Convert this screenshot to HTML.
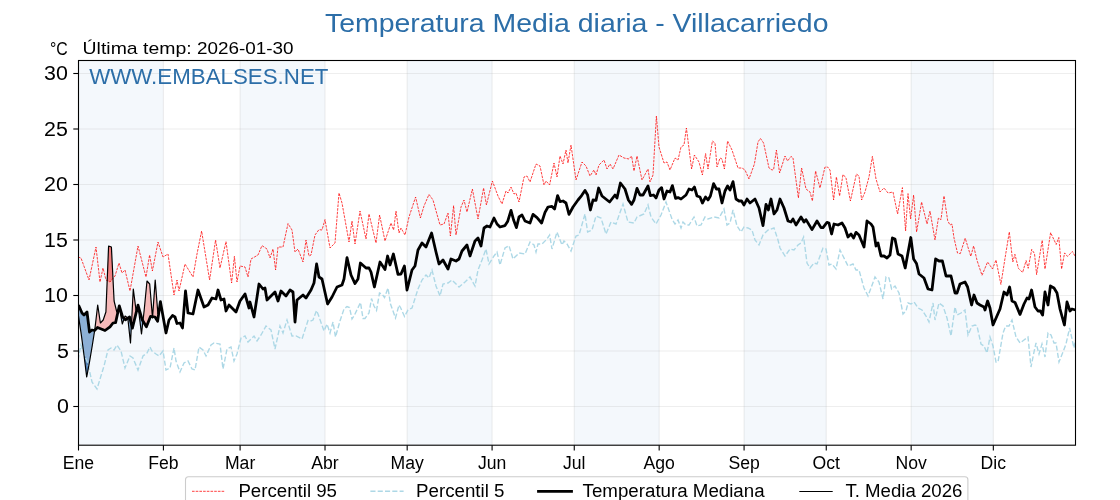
<!DOCTYPE html>
<html><head><meta charset="utf-8"><style>
html,body{margin:0;padding:0;background:#fff;width:1120px;height:500px;overflow:hidden;font-family:"Liberation Sans",sans-serif}
</style></head><body>
<svg width="1120" height="500" viewBox="0 0 1120 500" style="display:block;will-change:transform">
<rect x="0" y="0" width="1120" height="500" fill="#ffffff"/>
<rect x="78.50" y="60.50" width="84.91" height="384.70" fill="#f4f8fc"/>
<rect x="240.10" y="60.50" width="84.91" height="384.70" fill="#f4f8fc"/>
<rect x="407.18" y="60.50" width="84.91" height="384.70" fill="#f4f8fc"/>
<rect x="574.26" y="60.50" width="84.91" height="384.70" fill="#f4f8fc"/>
<rect x="744.08" y="60.50" width="82.17" height="384.70" fill="#f4f8fc"/>
<rect x="911.16" y="60.50" width="82.17" height="384.70" fill="#f4f8fc"/>
<line x1="78.50" y1="60.5" x2="78.50" y2="445.2" stroke="#b0b0b0" stroke-opacity="0.22" stroke-width="1.1"/>
<line x1="163.41" y1="60.5" x2="163.41" y2="445.2" stroke="#b0b0b0" stroke-opacity="0.22" stroke-width="1.1"/>
<line x1="240.10" y1="60.5" x2="240.10" y2="445.2" stroke="#b0b0b0" stroke-opacity="0.22" stroke-width="1.1"/>
<line x1="325.01" y1="60.5" x2="325.01" y2="445.2" stroke="#b0b0b0" stroke-opacity="0.22" stroke-width="1.1"/>
<line x1="407.18" y1="60.5" x2="407.18" y2="445.2" stroke="#b0b0b0" stroke-opacity="0.22" stroke-width="1.1"/>
<line x1="492.09" y1="60.5" x2="492.09" y2="445.2" stroke="#b0b0b0" stroke-opacity="0.22" stroke-width="1.1"/>
<line x1="574.26" y1="60.5" x2="574.26" y2="445.2" stroke="#b0b0b0" stroke-opacity="0.22" stroke-width="1.1"/>
<line x1="659.17" y1="60.5" x2="659.17" y2="445.2" stroke="#b0b0b0" stroke-opacity="0.22" stroke-width="1.1"/>
<line x1="744.08" y1="60.5" x2="744.08" y2="445.2" stroke="#b0b0b0" stroke-opacity="0.22" stroke-width="1.1"/>
<line x1="826.25" y1="60.5" x2="826.25" y2="445.2" stroke="#b0b0b0" stroke-opacity="0.22" stroke-width="1.1"/>
<line x1="911.16" y1="60.5" x2="911.16" y2="445.2" stroke="#b0b0b0" stroke-opacity="0.22" stroke-width="1.1"/>
<line x1="993.33" y1="60.5" x2="993.33" y2="445.2" stroke="#b0b0b0" stroke-opacity="0.22" stroke-width="1.1"/>
<line x1="78.5" y1="406.50" x2="1075.5" y2="406.50" stroke="#b0b0b0" stroke-opacity="0.22" stroke-width="1.1"/>
<line x1="78.5" y1="351.00" x2="1075.5" y2="351.00" stroke="#b0b0b0" stroke-opacity="0.22" stroke-width="1.1"/>
<line x1="78.5" y1="295.50" x2="1075.5" y2="295.50" stroke="#b0b0b0" stroke-opacity="0.22" stroke-width="1.1"/>
<line x1="78.5" y1="240.00" x2="1075.5" y2="240.00" stroke="#b0b0b0" stroke-opacity="0.22" stroke-width="1.1"/>
<line x1="78.5" y1="184.50" x2="1075.5" y2="184.50" stroke="#b0b0b0" stroke-opacity="0.22" stroke-width="1.1"/>
<line x1="78.5" y1="129.00" x2="1075.5" y2="129.00" stroke="#b0b0b0" stroke-opacity="0.22" stroke-width="1.1"/>
<line x1="78.5" y1="73.50" x2="1075.5" y2="73.50" stroke="#b0b0b0" stroke-opacity="0.22" stroke-width="1.1"/>
<defs><clipPath id="ax"><rect x="78.5" y="60.5" width="997.0" height="384.7"/></clipPath></defs>
<g clip-path="url(#ax)">
<polygon points="94.8,329.8 94.9,328.9 95.1,327.8 95.2,326.6 95.3,325.4 95.5,324.3 95.6,323.1 95.7,321.9 95.9,320.8 96.0,319.6 96.1,318.5 96.3,317.3 96.4,316.1 96.5,315.0 96.7,313.8 96.8,312.7 96.9,311.5 97.1,310.3 97.2,309.2 97.3,308.0 97.5,306.8 97.6,305.7 97.7,305.4 97.9,306.2 98.0,307.1 98.1,308.0 98.3,308.8 98.4,309.7 98.5,310.6 98.7,311.5 98.8,312.3 98.9,313.2 99.1,314.1 99.2,314.9 99.3,315.8 99.5,316.7 99.6,317.6 99.7,318.4 99.8,319.3 100.0,320.2 100.1,321.0 100.2,321.9 100.4,322.8 100.5,322.9 100.6,322.7 100.8,322.6 100.9,322.5 101.0,322.3 101.2,322.2 101.3,322.0 101.4,321.9 101.6,321.7 101.7,321.6 101.8,321.4 102.0,321.3 102.1,321.1 102.2,321.0 102.4,320.9 102.5,320.7 102.6,320.6 102.8,320.4 102.9,320.3 103.0,320.1 103.2,320.0 103.3,319.6 103.4,319.2 103.6,318.8 103.7,318.4 103.8,318.0 104.0,317.6 104.1,317.2 104.2,316.9 104.4,316.5 104.5,316.1 104.6,315.7 104.8,315.3 104.9,314.9 105.0,314.5 105.2,314.2 105.3,313.8 105.4,313.4 105.6,313.0 105.7,312.6 105.8,312.2 105.9,310.6 106.1,307.4 106.2,304.2 106.3,301.0 106.5,297.8 106.6,294.6 106.7,291.4 106.9,288.2 107.0,285.0 107.1,281.8 107.3,278.6 107.4,275.4 107.5,272.2 107.7,269.0 107.8,265.8 107.9,262.6 108.1,259.4 108.2,256.2 108.3,253.1 108.5,249.9 108.6,246.7 108.7,246.0 108.9,246.1 109.0,246.1 109.1,246.2 109.3,246.2 109.4,246.3 109.5,246.3 109.7,246.4 109.8,246.4 109.9,246.5 110.1,246.5 110.2,246.6 110.3,246.6 110.5,246.7 110.6,246.7 110.7,246.8 110.9,246.8 111.0,246.9 111.1,246.9 111.3,247.0 111.4,247.4 111.5,250.0 111.7,252.6 111.8,255.2 111.9,257.8 112.0,260.4 112.2,263.0 112.3,265.7 112.4,268.3 112.6,270.9 112.7,273.5 112.8,276.1 113.0,278.7 113.1,281.3 113.2,284.0 113.4,286.6 113.5,289.2 113.6,291.8 113.8,294.4 113.9,297.0 114.0,299.6 114.2,301.3 114.3,301.8 114.4,302.3 114.6,302.9 114.7,303.4 114.8,303.9 115.0,304.5 115.1,305.0 115.2,305.5 115.4,306.1 115.5,306.6 115.6,307.1 115.8,307.6 115.9,308.2 116.0,308.7 116.2,309.2 116.3,309.8 116.4,310.3 116.6,310.8 116.7,311.4 116.8,311.9 117.0,311.9 117.1,311.7 117.2,311.6 117.4,311.4 117.5,311.3 117.6,311.2 117.8,311.0 117.9,310.9 118.0,310.7 118.1,310.6 118.1,311.0 118.0,311.6 117.9,312.2 117.8,312.8 117.6,313.4 117.5,314.0 117.4,314.6 117.2,315.2 117.1,315.8 117.0,316.4 116.8,317.0 116.7,317.6 116.6,318.2 116.4,318.9 116.3,319.5 116.2,320.1 116.0,320.7 115.9,321.3 115.8,321.9 115.6,322.5 115.5,322.6 115.4,322.6 115.2,322.7 115.1,322.7 115.0,322.7 114.8,322.7 114.7,322.7 114.6,322.8 114.4,322.8 114.3,322.8 114.2,322.8 114.0,322.8 113.9,322.9 113.8,322.9 113.6,322.9 113.5,322.9 113.4,322.9 113.2,323.0 113.1,323.0 113.0,323.0 112.8,323.2 112.7,323.4 112.6,323.5 112.4,323.7 112.3,323.9 112.2,324.0 112.0,324.2 111.9,324.4 111.8,324.5 111.7,324.7 111.5,324.9 111.4,325.0 111.3,325.2 111.1,325.4 111.0,325.5 110.9,325.7 110.7,325.9 110.6,326.1 110.5,326.2 110.3,326.4 110.2,326.6 110.1,326.7 109.9,326.9 109.8,327.0 109.7,327.0 109.5,327.1 109.4,327.2 109.3,327.3 109.1,327.4 109.0,327.5 108.9,327.6 108.7,327.7 108.6,327.8 108.5,327.9 108.3,328.0 108.2,328.1 108.1,328.2 107.9,328.3 107.8,328.4 107.7,328.5 107.5,328.6 107.4,328.7 107.3,328.8 107.1,328.9 107.0,329.0 106.9,329.1 106.7,329.2 106.6,329.3 106.5,329.4 106.3,329.5 106.2,329.6 106.1,329.7 105.9,329.8 105.8,329.9 105.7,330.0 105.6,330.1 105.4,330.2 105.3,330.3 105.2,330.4 105.0,330.5 104.9,330.5 104.8,330.4 104.6,330.3 104.5,330.3 104.4,330.2 104.2,330.2 104.1,330.1 104.0,330.1 103.8,330.0 103.7,330.0 103.6,329.9 103.4,329.9 103.3,329.8 103.2,329.8 103.0,329.7 102.9,329.7 102.8,329.6 102.6,329.6 102.5,329.5 102.4,329.4 102.2,329.4 102.1,329.3 102.0,329.3 101.8,329.2 101.7,329.2 101.6,329.1 101.4,329.1 101.3,329.0 101.2,329.0 101.0,328.9 100.9,328.9 100.8,328.8 100.6,328.8 100.5,328.7 100.4,328.7 100.2,328.6 100.1,328.5 100.0,328.5 99.8,328.4 99.7,328.4 99.6,328.3 99.5,328.3 99.3,328.2 99.2,328.2 99.1,328.1 98.9,328.1 98.8,328.0 98.7,328.0 98.5,327.9 98.4,327.9 98.3,327.8 98.1,327.8 98.0,327.7 97.9,327.6 97.7,327.6 97.6,327.5 97.5,327.5 97.3,327.7 97.2,327.8 97.1,327.9 96.9,328.1 96.8,328.2 96.7,328.3 96.5,328.5 96.4,328.6 96.3,328.7 96.1,328.9 96.0,329.0 95.9,329.1 95.7,329.3 95.6,329.4 95.5,329.5 95.3,329.7 95.2,329.8 95.1,329.9 94.9,330.1 94.8,330.2" fill="#f5b9b9"/>
<polygon points="124.2,318.4 124.4,318.0 124.5,317.6 124.6,317.2 124.8,316.8 124.9,316.4 125.0,316.1 125.2,316.1 125.3,316.2 125.4,316.3 125.6,316.4 125.7,316.5 125.8,316.6 126.0,316.7 126.1,316.8 126.2,316.9 126.4,317.0 126.5,317.1 126.6,317.1 126.8,317.2 126.9,317.3 127.0,317.4 127.2,317.5 127.3,317.6 127.4,317.7 127.6,317.8 127.7,317.9 127.7,318.3 127.6,318.4 127.4,318.4 127.3,318.5 127.2,318.6 127.0,318.7 126.9,318.8 126.8,318.9 126.6,319.0 126.5,319.1 126.4,319.2 126.2,319.2 126.1,319.3 126.0,319.4 125.8,319.5 125.7,319.6 125.6,319.7 125.4,319.8 125.3,319.7 125.2,319.6 125.0,319.4 124.9,319.3 124.8,319.2 124.6,319.0 124.5,318.9 124.4,318.8 124.2,318.6" fill="#f5b9b9"/>
<polygon points="131.5,323.3 131.7,320.6 131.8,318.0 131.9,315.4 132.1,312.8 132.2,310.2 132.3,307.6 132.5,305.0 132.6,302.3 132.7,299.7 132.9,297.1 133.0,294.5 133.1,291.9 133.3,289.3 133.4,289.9 133.5,290.9 133.7,291.9 133.8,293.0 133.9,294.0 134.1,295.0 134.2,296.0 134.3,297.0 134.5,298.0 134.6,299.1 134.7,300.1 134.9,301.1 135.0,302.1 135.1,303.1 135.3,304.1 135.4,305.2 135.5,306.2 135.7,307.2 135.8,308.2 135.9,309.2 136.1,310.0 136.2,310.1 136.3,310.2 136.4,310.3 136.6,310.4 136.6,311.0 136.4,311.5 136.3,312.0 136.2,312.6 136.1,313.1 135.9,313.7 135.8,314.2 135.7,314.8 135.5,315.3 135.4,315.9 135.3,316.4 135.1,317.0 135.0,317.5 134.9,318.1 134.7,318.6 134.6,319.2 134.5,319.7 134.3,320.2 134.2,320.8 134.1,321.3 133.9,321.9 133.8,322.4 133.7,323.0 133.5,323.5 133.4,324.1 133.3,324.6 133.1,325.2 133.0,325.7 132.9,326.3 132.7,326.8 132.6,327.4 132.5,327.9 132.3,328.0 132.2,327.4 132.1,326.9 131.9,326.4 131.8,325.8 131.7,325.3 131.5,324.8" fill="#f5b9b9"/>
<polygon points="143.1,320.1 143.2,319.0 143.3,317.8 143.5,316.7 143.6,315.5 143.7,314.3 143.9,313.2 144.0,312.0 144.1,310.8 144.3,309.6 144.4,308.2 144.5,306.8 144.7,305.4 144.8,304.0 144.9,302.6 145.1,301.2 145.2,299.8 145.3,298.4 145.5,297.0 145.6,295.6 145.7,294.2 145.9,292.8 146.0,291.4 146.1,290.0 146.3,288.6 146.4,287.1 146.5,285.7 146.7,284.3 146.8,282.9 146.9,281.5 147.1,281.1 147.2,281.2 147.3,281.4 147.5,281.5 147.6,281.7 147.7,281.8 147.9,282.0 148.0,282.1 148.1,282.3 148.3,282.4 148.4,282.5 148.5,282.7 148.6,282.8 148.8,283.0 148.9,283.1 149.0,283.3 149.2,283.4 149.3,283.6 149.4,283.7 149.6,283.8 149.7,284.0 149.8,285.6 150.0,287.2 150.1,288.9 150.2,290.5 150.4,292.2 150.5,293.8 150.6,295.5 150.8,297.1 150.9,298.8 151.0,300.4 151.2,302.1 151.3,303.7 151.4,305.3 151.6,307.0 151.7,308.6 151.8,310.3 152.0,311.9 152.1,313.6 152.2,315.2 152.2,316.6 152.1,316.5 152.0,316.5 151.8,316.5 151.7,316.5 151.6,316.5 151.4,316.4 151.3,316.4 151.2,316.4 151.0,316.4 150.9,316.3 150.8,316.3 150.6,316.3 150.5,316.5 150.4,316.9 150.2,317.2 150.1,317.5 150.0,317.9 149.8,318.2 149.7,318.5 149.6,318.9 149.4,319.2 149.3,319.5 149.2,319.9 149.0,320.2 148.9,320.5 148.8,320.8 148.6,321.2 148.5,321.5 148.4,321.8 148.3,322.2 148.1,322.5 148.0,322.8 147.9,323.2 147.7,323.5 147.6,323.8 147.5,324.2 147.3,324.5 147.2,324.8 147.1,325.2 146.9,325.5 146.8,325.8 146.7,326.2 146.5,326.5 146.4,326.8 146.3,326.6 146.1,326.3 146.0,326.1 145.9,325.9 145.7,325.7 145.6,325.5 145.5,325.2 145.3,325.0 145.2,324.8 145.1,324.6 144.9,324.4 144.8,324.1 144.7,323.9 144.5,323.7 144.4,323.5 144.3,323.3 144.1,323.0 144.0,322.8 143.9,322.6 143.7,322.4 143.6,322.1 143.5,321.9 143.3,321.7 143.2,321.5 143.1,321.3" fill="#f5b9b9"/>
<polygon points="152.6,315.6 152.8,313.7 152.9,311.9 153.0,310.1 153.2,308.2 153.3,306.4 153.4,304.6 153.6,302.7 153.7,300.9 153.8,299.0 154.0,297.2 154.1,295.4 154.2,293.5 154.4,291.7 154.5,289.8 154.6,288.0 154.7,286.2 154.9,284.3 155.0,282.5 155.1,280.6 155.3,281.1 155.4,282.7 155.5,284.4 155.7,286.0 155.8,287.7 155.9,289.3 156.1,291.0 156.2,292.6 156.3,294.2 156.5,295.9 156.6,297.5 156.7,299.2 156.9,300.8 157.0,302.5 157.1,304.1 157.3,305.8 157.4,307.4 157.5,309.1 157.7,310.7 157.8,312.4 157.9,314.0 157.9,318.9 157.8,319.8 157.7,320.7 157.5,321.1 157.4,320.9 157.3,320.7 157.1,320.4 157.0,320.2 156.9,320.0 156.7,319.8 156.6,319.6 156.5,319.4 156.3,319.2 156.2,319.0 156.1,318.7 155.9,318.5 155.8,318.3 155.7,318.1 155.5,317.9 155.4,317.7 155.3,317.5 155.1,317.2 155.0,317.0 154.9,317.0 154.7,317.0 154.6,316.9 154.5,316.9 154.4,316.9 154.2,316.9 154.1,316.9 154.0,316.8 153.8,316.8 153.7,316.8 153.6,316.8 153.4,316.7 153.3,316.7 153.2,316.7 153.0,316.7 152.9,316.7 152.8,316.6 152.6,316.6" fill="#f5b9b9"/>
<polygon points="78.5,316.0 78.6,316.9 78.8,317.7 78.9,318.6 79.0,319.5 79.2,320.4 79.3,321.2 79.4,322.1 79.6,323.0 79.7,323.8 79.8,324.7 80.0,325.6 80.1,326.5 80.2,327.3 80.4,328.2 80.5,329.1 80.6,329.9 80.8,330.8 80.9,331.7 81.0,332.6 81.2,333.4 81.3,334.4 81.4,335.4 81.5,336.4 81.7,337.4 81.8,338.4 81.9,339.4 82.1,340.5 82.2,341.5 82.3,342.5 82.5,343.5 82.6,344.5 82.7,345.5 82.9,346.6 83.0,347.6 83.1,348.6 83.3,349.6 83.4,350.6 83.5,351.6 83.7,352.7 83.8,353.7 83.9,354.7 84.1,355.7 84.2,356.8 84.3,357.9 84.5,358.9 84.6,360.0 84.7,361.1 84.9,362.1 85.0,363.2 85.1,364.3 85.3,365.3 85.4,366.4 85.5,367.5 85.7,368.5 85.8,369.6 85.9,370.6 86.1,371.7 86.2,372.8 86.3,373.8 86.5,374.9 86.6,376.0 86.7,377.0 86.9,376.2 87.0,375.5 87.1,374.8 87.3,374.1 87.4,373.3 87.5,372.6 87.6,371.9 87.8,371.2 87.9,370.4 88.0,369.7 88.2,369.0 88.3,368.3 88.4,367.5 88.6,366.8 88.7,366.1 88.8,365.4 89.0,364.6 89.1,363.9 89.2,363.2 89.4,362.5 89.5,361.7 89.6,360.9 89.8,360.2 89.9,359.4 90.0,358.6 90.2,357.8 90.3,357.1 90.4,356.3 90.6,355.5 90.7,354.7 90.8,354.0 91.0,353.2 91.1,352.4 91.2,351.6 91.4,350.9 91.5,350.1 91.6,349.3 91.8,348.5 91.9,347.8 92.0,347.0 92.2,346.2 92.3,345.4 92.4,344.6 92.6,343.8 92.7,342.9 92.8,342.1 93.0,341.3 93.1,340.5 93.2,339.6 93.4,338.8 93.5,338.0 93.6,337.2 93.7,336.4 93.9,335.5 94.0,334.7 94.1,333.9 94.3,333.1 94.4,332.2 94.5,331.4 94.7,330.6 94.7,330.3 94.5,330.5 94.4,330.5 94.3,330.5 94.1,330.4 94.0,330.4 93.9,330.4 93.7,330.3 93.6,330.3 93.5,330.3 93.4,330.3 93.2,330.2 93.1,330.2 93.0,330.2 92.8,330.2 92.7,330.1 92.6,330.1 92.4,330.1 92.3,330.1 92.2,330.0 92.0,330.0 91.9,330.1 91.8,330.2 91.6,330.3 91.5,330.4 91.4,330.5 91.2,330.6 91.1,330.7 91.0,330.8 90.8,330.9 90.7,331.0 90.6,331.1 90.4,331.3 90.3,331.4 90.2,331.5 90.0,331.6 89.9,331.7 89.8,331.8 89.6,331.9 89.5,332.0 89.4,331.0 89.2,329.9 89.1,328.9 89.0,327.8 88.8,326.7 88.7,325.7 88.6,324.6 88.4,323.6 88.3,322.5 88.2,321.4 88.0,320.4 87.9,319.3 87.8,318.3 87.6,317.2 87.5,316.1 87.4,315.1 87.3,314.0 87.1,313.0 87.0,312.0 86.9,312.1 86.7,312.3 86.6,312.4 86.5,312.5 86.3,312.7 86.2,312.8 86.1,312.9 85.9,313.1 85.8,313.2 85.7,313.3 85.5,313.5 85.4,313.6 85.3,313.7 85.1,313.9 85.0,314.0 84.9,314.1 84.7,314.3 84.6,314.4 84.5,314.5 84.3,314.7 84.2,314.8 84.1,314.9 83.9,314.9 83.8,314.8 83.7,314.7 83.5,314.5 83.4,314.4 83.3,314.3 83.1,314.1 83.0,314.0 82.9,313.9 82.7,313.7 82.6,313.6 82.5,313.5 82.3,313.3 82.2,313.2 82.1,313.1 81.9,312.9 81.8,312.6 81.7,312.3 81.5,312.0 81.4,311.7 81.3,311.4 81.2,311.1 81.0,310.8 80.9,310.5 80.8,310.2 80.6,309.8 80.5,309.5 80.4,309.2 80.2,308.9 80.1,308.6 80.0,308.3 79.8,308.0 79.7,307.7 79.6,307.4 79.4,307.1 79.3,306.8 79.2,306.5 79.0,306.2 78.9,305.9 78.8,305.6 78.6,305.3 78.5,305.0" fill="#8cb0d6"/>
<polygon points="118.3,310.4 118.4,310.3 118.5,310.1 118.7,310.0 118.8,309.8 118.9,309.7 119.1,309.6 119.2,309.4 119.3,309.3 119.5,309.1 119.6,309.1 119.7,309.9 119.9,310.6 120.0,311.3 120.1,312.0 120.3,312.8 120.4,313.5 120.5,314.2 120.7,314.9 120.8,315.7 120.9,316.4 121.1,317.1 121.2,317.8 121.3,318.6 121.5,319.3 121.6,320.0 121.7,320.7 121.9,321.5 122.0,322.2 122.1,322.9 122.3,323.6 122.4,323.8 122.5,323.4 122.7,323.0 122.8,322.6 122.9,322.3 123.1,321.9 123.2,321.5 123.3,321.1 123.5,320.7 123.6,320.3 123.7,319.9 123.9,319.5 124.0,319.2 124.1,318.8 124.1,318.5 124.0,318.4 123.9,318.3 123.7,318.1 123.6,318.0 123.5,317.9 123.3,317.7 123.2,317.6 123.1,317.5 122.9,317.3 122.8,317.2 122.7,317.1 122.5,316.7 122.4,316.3 122.3,315.8 122.1,315.4 122.0,314.9 121.9,314.5 121.7,314.0 121.6,313.6 121.5,313.1 121.3,312.7 121.2,312.2 121.1,311.8 120.9,311.3 120.8,310.9 120.7,310.4 120.5,310.0 120.4,309.5 120.3,309.1 120.1,308.6 120.0,308.2 119.9,307.7 119.7,307.3 119.6,306.8 119.5,306.4 119.3,305.9 119.2,306.2 119.1,306.8 118.9,307.4 118.8,308.0 118.7,308.6 118.5,309.2 118.4,309.8 118.3,310.4" fill="#8cb0d6"/>
<polygon points="127.8,318.3 128.0,319.5 128.1,320.7 128.2,321.9 128.4,323.1 128.5,324.3 128.6,325.5 128.8,326.7 128.9,327.9 129.0,329.1 129.2,330.4 129.3,331.6 129.4,332.8 129.6,334.0 129.7,335.2 129.8,336.4 130.0,337.6 130.1,338.8 130.2,340.0 130.3,341.2 130.5,342.5 130.6,341.6 130.7,338.9 130.9,336.3 131.0,333.7 131.1,331.1 131.3,328.5 131.4,325.9 131.4,324.2 131.3,323.7 131.1,323.2 131.0,322.6 130.9,322.1 130.7,321.6 130.6,321.1 130.5,320.5 130.3,320.0 130.2,319.5 130.1,318.9 130.0,318.4 129.8,317.9 129.7,317.3 129.6,317.0 129.4,317.1 129.3,317.2 129.2,317.3 129.0,317.4 128.9,317.5 128.8,317.6 128.6,317.6 128.5,317.7 128.4,317.8 128.2,317.9 128.1,318.0 128.0,318.1 127.8,318.2" fill="#8cb0d6"/>
<polygon points="136.7,310.5 136.8,310.6 137.0,310.7 137.1,310.8 137.2,310.9 137.4,311.0 137.5,311.1 137.6,311.2 137.8,311.3 137.9,311.4 138.0,311.5 138.2,311.6 138.3,311.7 138.4,311.8 138.6,311.9 138.7,312.0 138.8,312.6 139.0,313.7 139.1,314.8 139.2,315.8 139.4,316.9 139.5,317.9 139.6,319.0 139.8,320.1 139.9,321.1 140.0,322.2 140.2,323.3 140.3,324.3 140.4,325.4 140.6,326.5 140.7,327.5 140.8,328.6 141.0,329.7 141.1,330.7 141.2,331.8 141.4,332.9 141.5,333.9 141.6,332.9 141.8,331.8 141.9,330.6 142.0,329.4 142.2,328.3 142.3,327.1 142.4,325.9 142.5,324.8 142.7,323.6 142.8,322.5 142.9,321.3 142.9,321.0 142.8,320.8 142.7,320.6 142.5,320.4 142.4,320.2 142.3,319.9 142.2,319.6 142.0,319.2 141.9,318.7 141.8,318.2 141.6,317.8 141.5,317.3 141.4,316.8 141.2,316.4 141.1,315.9 141.0,315.5 140.8,315.0 140.7,314.5 140.6,314.1 140.4,313.6 140.3,313.1 140.2,312.7 140.0,312.2 139.9,311.7 139.8,311.3 139.6,310.8 139.5,310.3 139.4,309.9 139.2,309.4 139.1,309.0 139.0,308.5 138.8,308.0 138.7,307.6 138.6,307.1 138.4,306.6 138.3,306.2 138.2,305.7 138.0,305.2 137.9,305.5 137.8,306.0 137.6,306.6 137.5,307.1 137.4,307.7 137.2,308.2 137.1,308.8 137.0,309.3 136.8,309.9 136.7,310.4" fill="#8cb0d6"/>
<polygon points="152.4,316.9 152.5,317.4 152.5,316.6 152.4,316.6" fill="#8cb0d6"/>
<polygon points="107.3,278.6 107.4,275.4 107.5,272.2 107.7,269.0 107.8,265.8 107.9,262.6 108.1,259.4 108.2,256.2 108.3,253.1 108.5,249.9 108.6,246.7 108.7,246.0 108.9,246.1 109.0,246.1 109.1,246.2 109.3,246.2 109.4,246.3 109.5,246.3 109.7,246.4 109.8,246.4 109.9,246.5 110.1,246.5 110.2,246.6 110.3,246.6 110.5,246.7 110.6,246.7 110.7,246.8 110.9,246.8 111.0,246.9 111.1,246.9 111.3,247.0 111.4,247.4 111.5,250.0 111.7,252.6 111.8,255.2 111.9,257.8 112.0,260.4 112.2,263.0 112.3,265.7 112.4,268.3 112.6,270.9 112.7,273.5 112.8,276.1 112.8,278.6 112.7,278.7 112.6,278.9 112.4,279.1 112.3,279.2 112.2,279.4 112.0,279.5 111.9,279.7 111.8,279.9 111.7,280.0 111.5,280.2 111.4,280.3 111.3,280.5 111.1,280.7 111.0,280.8 110.9,281.0 110.7,281.1 110.6,281.3 110.5,281.5 110.3,281.6 110.2,281.8 110.1,281.9 109.9,282.0 109.8,281.9 109.7,281.8 109.5,281.8 109.4,281.7 109.3,281.6 109.1,281.6 109.0,281.5 108.9,281.4 108.7,281.4 108.6,281.3 108.5,281.2 108.3,281.2 108.2,281.1 108.1,281.0 107.9,281.0 107.8,280.9 107.7,280.8 107.5,280.8 107.4,280.7 107.3,280.6" fill="#f08080"/>
<polygon points="83.8,353.4 83.9,353.8 84.1,354.2 84.2,354.5 84.3,354.8 84.5,355.2 84.6,355.5 84.7,355.8 84.9,356.2 85.0,356.5 85.1,356.8 85.3,357.2 85.4,357.5 85.5,357.8 85.7,358.2 85.8,358.5 85.9,358.8 86.1,359.1 86.2,359.5 86.3,359.8 86.5,360.1 86.6,360.5 86.7,360.8 86.9,361.1 87.0,361.5 87.1,361.8 87.3,362.1 87.4,362.5 87.5,362.8 87.6,363.1 87.8,363.5 87.9,363.8 88.0,364.2 88.2,364.8 88.3,365.4 88.4,366.0 88.6,366.6 88.6,366.8 88.4,367.5 88.3,368.3 88.2,369.0 88.0,369.7 87.9,370.4 87.8,371.2 87.6,371.9 87.5,372.6 87.4,373.3 87.3,374.1 87.1,374.8 87.0,375.5 86.9,376.2 86.7,377.0 86.6,376.0 86.5,374.9 86.3,373.8 86.2,372.8 86.1,371.7 85.9,370.6 85.8,369.6 85.7,368.5 85.5,367.5 85.4,366.4 85.3,365.3 85.1,364.3 85.0,363.2 84.9,362.1 84.7,361.1 84.6,360.0 84.5,358.9 84.3,357.9 84.2,356.8 84.1,355.7 83.9,354.7 83.8,353.7" fill="#4f7fb5"/>
<polyline points="78.0,257.0 81.0,258.0 89.0,280.0 96.0,247.0 100.0,282.0 103.0,268.0 106.0,280.0 110.0,282.0 115.0,276.0 119.0,263.0 122.0,273.0 125.0,270.0 130.0,291.0 138.0,246.0 146.0,277.0 149.6,255.0 152.4,271.0 158.0,242.0 163.0,257.0 168.0,254.0 174.0,295.0 177.0,280.0 179.0,291.0 185.0,264.0 193.0,277.0 197.0,254.0 201.6,231.0 209.6,280.0 215.6,240.0 220.0,268.0 226.0,241.6 231.6,283.0 234.4,256.4 237.0,282.0 240.0,266.0 245.0,267.0 248.0,277.0 251.0,259.0 258.0,255.0 262.0,245.6 267.0,249.0 270.0,258.0 273.0,249.0 275.6,270.0 278.0,247.0 283.0,247.0 288.0,223.6 292.0,230.0 295.0,252.0 298.0,249.0 303.0,262.0 306.0,240.0 309.0,256.0 311.0,255.0 315.0,235.0 319.0,229.6 322.0,230.0 325.0,219.6 330.0,248.0 335.0,243.0 339.0,193.0 342.0,203.0 349.0,242.0 352.0,221.0 355.0,244.0 360.0,211.0 366.0,239.0 369.0,214.0 376.0,243.0 379.6,215.0 385.0,241.0 391.0,223.0 393.6,230.0 396.0,211.0 399.0,233.0 401.0,228.0 405.0,235.0 409.0,217.0 415.6,197.0 420.4,218.0 424.0,206.0 429.0,194.4 433.0,200.0 440.0,225.0 444.0,224.0 448.0,213.0 450.4,236.0 453.6,205.6 456.0,235.0 461.0,207.0 464.0,200.0 467.0,212.0 472.4,189.0 478.0,219.0 483.6,188.0 486.4,205.0 492.4,181.0 498.0,196.0 502.0,204.0 506.0,191.0 508.0,193.0 511.0,187.0 514.0,194.0 516.0,193.0 519.0,202.0 524.0,177.0 527.0,176.0 530.0,182.0 536.0,164.0 540.0,166.0 544.0,185.0 546.0,181.0 549.6,185.0 554.0,163.0 557.0,177.0 560.0,156.0 563.0,164.0 566.0,150.0 568.0,163.0 571.0,145.0 576.0,180.0 582.0,162.0 586.0,166.0 590.0,176.0 594.0,170.0 596.0,175.0 599.0,165.0 604.0,160.0 607.0,169.0 610.0,164.0 613.0,169.0 619.0,155.0 624.0,158.0 629.0,159.0 631.6,156.0 634.0,171.0 637.0,156.0 642.0,180.0 648.0,169.0 650.0,182.0 653.0,175.0 656.4,116.0 659.0,147.0 664.0,163.0 667.0,162.0 670.0,170.0 675.0,158.0 678.0,160.0 681.0,147.0 684.0,145.0 686.4,128.0 691.6,169.0 694.4,155.0 699.0,162.0 702.4,175.0 705.6,153.6 708.0,169.0 712.4,141.0 715.0,143.0 717.0,167.0 720.0,158.0 722.0,159.0 724.4,169.0 727.6,141.0 732.0,150.0 738.0,168.0 742.0,168.0 745.0,170.0 749.0,179.0 754.4,164.0 758.0,142.0 760.4,138.4 763.6,143.0 769.0,168.0 772.0,170.0 773.6,169.6 776.4,150.0 779.6,173.0 785.0,156.0 787.6,161.0 791.0,156.4 793.0,158.0 798.4,198.0 801.6,168.0 806.0,189.0 810.0,192.0 812.4,201.0 815.6,171.0 820.0,188.0 825.0,167.0 827.6,167.0 830.0,170.0 833.6,200.0 836.4,177.0 839.6,196.0 843.0,174.4 846.0,178.0 850.4,201.0 856.4,174.0 859.0,176.0 861.6,200.0 865.0,192.0 869.0,177.0 872.4,156.4 876.0,179.0 880.0,192.0 884.0,188.0 888.0,193.0 893.0,192.0 897.6,214.0 902.4,187.6 905.6,231.0 908.0,193.6 910.6,219.0 913.6,195.0 916.6,232.0 921.6,202.0 927.0,224.0 930.0,211.0 935.0,240.0 938.4,218.0 941.0,219.6 944.0,196.0 947.7,220.7 950.0,225.0 952.0,224.0 954.0,238.0 957.5,253.0 960.3,253.6 965.2,238.2 970.8,256.4 973.6,245.9 977.1,260.6 982.0,275.3 987.6,262.0 992.5,269.0 996.0,260.0 1000.9,284.4 1005.1,257.8 1009.3,231.9 1012.8,262.0 1014.9,254.3 1018.4,268.3 1022.6,272.5 1026.1,260.6 1028.2,268.3 1031.7,249.4 1034.5,253.6 1036.6,274.6 1042.2,240.3 1045.0,269.0 1050.6,232.6 1056.2,244.5 1058.8,237.5 1061.6,269.0 1064.6,252.9 1067.5,256.4 1072.4,251.5 1075.2,256.4" fill="none" stroke="#ff0000" stroke-width="0.75" stroke-dasharray="2.6,1.1"/>
<polyline points="78.0,360.0 81.0,345.0 84.0,354.0 88.0,364.0 92.0,382.0 97.0,389.0 104.0,366.0 108.0,350.0 111.0,348.0 114.0,350.0 117.0,345.0 121.0,351.0 125.0,368.0 130.0,356.0 133.0,358.0 138.0,370.0 143.0,356.0 147.0,353.0 150.0,347.0 152.0,351.0 156.0,354.0 159.0,356.0 163.0,351.0 166.0,370.0 170.0,368.0 174.0,348.0 176.0,361.0 180.0,372.0 184.0,363.0 188.0,361.0 192.0,369.0 195.0,370.0 199.0,347.0 203.0,350.0 206.0,356.0 211.0,345.0 214.0,343.0 220.0,344.0 223.0,369.0 227.0,349.0 231.0,347.0 234.0,361.0 237.0,354.0 241.0,338.0 245.0,336.0 248.0,342.0 254.0,336.0 257.0,341.0 261.0,335.0 266.0,326.0 271.0,330.0 275.0,349.0 280.0,326.0 283.0,333.0 287.0,320.0 292.0,336.0 296.0,336.0 302.0,339.0 308.0,320.5 310.0,321.5 313.0,320.0 316.5,310.5 318.0,314.0 324.0,331.0 327.0,324.0 330.0,333.0 333.0,322.0 335.5,337.0 340.0,321.0 344.0,309.0 347.0,306.5 349.5,307.5 352.0,319.0 354.5,315.0 360.5,302.5 363.0,318.5 365.0,318.5 369.0,313.0 371.5,298.5 374.0,306.0 376.5,310.5 379.5,293.0 382.0,294.0 384.5,297.5 388.0,288.0 390.5,304.0 395.5,318.0 399.0,305.0 400.5,307.5 404.5,316.5 408.0,310.0 412.0,308.0 418.0,289.0 422.0,280.0 426.0,275.0 429.0,278.0 432.0,270.0 436.0,286.0 440.0,296.0 443.0,284.0 448.0,283.0 452.0,280.0 459.0,287.0 465.0,282.0 470.0,277.0 475.0,286.0 478.0,270.0 482.0,260.0 486.0,249.0 489.0,264.0 494.0,256.0 497.0,252.0 500.0,265.0 505.0,248.0 509.0,245.6 513.0,259.0 519.0,253.0 525.0,254.0 530.0,242.0 534.0,245.0 536.0,252.0 538.0,244.0 542.0,244.0 547.0,239.0 549.6,235.0 552.0,249.0 557.0,232.0 562.0,245.0 564.0,241.0 567.0,244.0 571.0,251.0 576.0,236.0 579.0,235.0 585.0,214.0 587.6,232.0 592.0,230.0 596.0,216.0 601.0,218.0 606.0,234.0 611.0,222.0 616.0,224.0 623.0,204.0 628.0,222.0 634.0,223.0 637.0,217.0 644.0,214.0 648.0,205.0 651.0,217.0 656.0,224.0 661.0,215.0 666.0,202.0 672.0,219.0 675.0,224.0 678.0,220.0 681.0,228.0 683.0,222.0 686.0,225.0 689.0,225.0 694.0,217.0 697.0,226.0 701.0,225.0 705.0,217.0 708.0,219.0 714.0,217.0 719.0,218.0 724.0,209.0 727.0,225.0 730.0,223.0 733.0,210.0 737.0,226.0 741.0,232.0 744.0,227.0 748.0,228.0 752.0,230.0 755.0,240.0 759.0,245.0 763.0,235.0 768.0,230.0 774.0,228.0 778.0,240.0 780.0,248.0 785.0,256.0 790.0,249.0 794.0,250.0 798.0,245.0 801.0,243.0 803.6,237.0 807.0,263.0 810.0,268.0 814.0,263.0 817.0,264.0 823.0,248.0 826.0,249.0 829.0,265.0 832.0,264.0 836.0,269.0 840.0,250.0 843.0,256.0 848.0,266.0 853.0,264.0 856.0,270.0 859.0,270.0 864.0,288.0 868.0,296.0 871.0,288.0 875.0,277.0 879.0,282.0 883.0,299.0 886.0,277.0 889.0,278.0 891.6,289.0 895.0,286.0 899.0,293.0 903.0,314.0 906.0,311.0 908.0,303.0 911.0,304.0 914.0,302.0 918.0,308.0 922.0,310.0 926.0,316.0 929.0,322.0 933.0,303.0 935.0,320.0 939.0,303.0 943.0,306.0 947.0,318.0 951.0,336.0 955.0,307.0 957.0,315.0 961.0,313.0 965.0,310.0 968.0,335.0 972.0,326.0 975.0,325.0 977.0,326.0 981.0,344.0 984.0,346.0 987.0,353.0 990.0,337.0 993.0,346.0 996.0,362.0 998.0,362.0 1003.0,333.0 1005.6,326.0 1009.0,326.0 1012.0,320.0 1016.0,337.0 1020.0,343.0 1024.0,340.0 1028.0,337.0 1031.0,367.0 1034.0,352.0 1036.0,343.0 1039.0,354.0 1042.0,344.0 1045.0,357.0 1048.0,333.0 1051.0,335.0 1054.0,343.0 1056.0,343.0 1059.0,362.0 1063.0,352.0 1066.0,344.0 1069.6,328.0 1074.0,348.0 1075.5,340.0" fill="none" stroke="#add8e6" stroke-width="1.39" stroke-dasharray="5.1,2.2"/>
<polyline points="78.5,305.0 82.0,313.0 84.0,315.0 87.0,312.0 89.5,332.0 92.0,330.0 94.5,330.5 97.5,327.5 105.0,330.5 110.0,326.8 113.0,323.0 115.6,322.6 119.3,305.8 122.6,317.0 125.4,319.8 129.6,317.0 132.4,328.2 138.0,305.1 142.2,319.8 146.4,326.8 150.6,316.3 155.0,317.0 157.6,321.2 160.4,301.6 166.0,333.0 169.0,320.0 172.5,315.5 175.0,317.0 177.0,323.5 180.0,323.0 182.5,328.0 185.5,291.0 188.0,313.0 193.0,314.0 198.0,290.0 204.0,307.0 208.0,305.0 212.0,298.0 216.0,299.0 218.0,290.0 221.0,300.0 224.0,299.0 226.0,311.0 229.0,305.0 236.0,312.0 240.0,301.0 245.0,294.0 249.0,308.0 250.0,302.0 254.0,317.0 259.0,284.0 263.0,289.0 265.0,288.0 267.0,300.0 275.0,292.0 278.0,301.0 281.0,291.0 286.0,296.0 290.0,290.0 293.0,292.0 295.0,322.0 297.0,300.0 303.0,295.0 306.0,298.0 311.0,290.0 314.0,283.0 316.6,264.0 319.0,277.0 322.0,279.0 327.6,304.0 332.0,297.0 337.0,287.0 342.0,285.0 344.0,279.0 347.0,257.6 351.0,275.0 355.0,283.6 358.0,279.0 360.4,263.0 366.0,268.0 369.0,268.0 371.0,272.0 374.4,287.0 380.0,262.0 385.0,269.6 387.6,256.0 390.0,265.0 393.4,254.0 398.0,274.4 401.0,274.0 404.4,266.0 407.0,290.0 412.0,270.0 415.0,266.0 418.0,250.0 422.0,243.0 426.0,247.0 431.6,233.0 436.0,252.0 439.0,264.0 443.0,260.0 448.0,269.0 451.0,259.0 456.0,261.0 459.0,259.0 462.0,251.0 467.0,245.0 470.0,256.0 475.0,241.0 478.0,238.0 481.0,246.0 484.0,228.0 487.0,226.0 490.0,227.0 494.0,218.0 497.0,224.0 500.0,227.0 505.0,225.6 507.6,221.6 511.0,210.4 513.6,220.0 516.4,227.6 519.0,217.0 522.0,215.0 525.0,221.0 530.0,223.0 533.0,214.4 537.0,217.6 541.6,223.0 545.0,212.4 548.0,207.0 552.0,206.4 554.6,209.0 557.6,195.6 560.0,201.6 563.0,201.0 566.0,203.0 569.0,214.4 573.0,207.0 578.0,200.0 581.6,195.6 585.0,190.4 587.6,195.0 590.4,210.0 593.0,200.0 596.0,200.4 598.6,188.0 602.0,196.0 609.6,202.0 615.0,195.0 617.0,198.0 620.4,183.0 625.0,189.0 628.4,200.0 631.6,204.4 634.0,200.0 637.0,188.4 640.0,195.0 643.0,195.0 648.0,186.0 650.4,195.6 653.6,195.0 656.0,198.0 659.0,190.0 661.6,187.6 664.0,199.0 667.0,191.0 670.0,192.0 672.4,185.6 675.6,198.4 678.0,197.6 681.0,199.0 686.0,195.0 689.0,189.0 692.0,190.0 694.4,187.0 697.0,196.0 700.0,197.0 702.4,203.0 705.6,197.0 708.0,200.0 710.4,196.0 713.6,183.6 716.4,189.0 719.0,189.0 722.0,203.0 725.0,191.0 727.6,186.0 730.0,190.0 733.0,181.6 736.0,199.0 739.0,201.0 741.6,201.0 744.0,205.0 747.0,199.0 750.0,203.0 755.0,199.0 759.0,208.0 763.0,225.6 766.0,204.4 768.4,210.0 771.0,199.0 774.0,214.0 777.0,210.0 780.0,199.0 784.0,208.0 788.0,221.0 791.0,222.0 793.0,219.0 796.0,225.0 801.0,217.0 804.0,222.0 806.0,219.6 812.0,229.6 817.0,221.0 821.0,227.6 823.0,227.6 827.0,222.4 829.0,223.0 831.6,234.0 834.0,224.0 838.0,225.0 842.0,223.0 845.0,228.0 848.0,237.0 851.0,234.0 853.6,238.0 856.0,232.4 859.0,235.0 864.0,247.0 867.0,221.0 871.0,224.0 873.0,227.0 876.0,246.0 878.0,243.0 881.0,256.0 884.0,256.0 887.0,258.0 890.0,255.0 892.4,238.0 895.0,239.0 898.0,254.0 902.0,256.0 905.2,268.0 910.8,237.5 913.6,259.0 916.5,263.5 919.0,274.0 924.0,278.0 928.0,289.0 932.0,290.0 935.6,259.0 939.0,261.0 942.4,261.0 946.0,276.0 951.0,276.0 955.0,293.0 957.0,293.0 960.0,284.0 965.0,282.0 967.6,287.0 971.6,305.0 974.0,295.0 977.0,303.0 980.0,305.0 984.0,307.0 985.0,310.0 987.6,301.0 990.0,308.0 993.0,325.0 1000.0,309.0 1004.0,292.0 1007.0,295.0 1009.6,287.0 1012.0,301.0 1015.0,302.4 1020.0,314.4 1024.0,304.0 1027.0,298.0 1029.0,299.0 1031.6,290.0 1035.0,307.0 1038.0,311.0 1040.4,311.0 1042.6,315.0 1045.0,292.0 1048.0,305.0 1050.4,286.0 1054.0,288.0 1057.0,293.0 1060.0,309.0 1064.4,325.0 1067.0,302.0 1070.0,311.0 1072.0,309.0 1075.5,310.0" fill="none" stroke="#000000" stroke-width="2.78" stroke-linejoin="round"/>
<polyline points="78.5,316.0 81.2,334.0 84.0,355.0 86.7,377.0 89.5,362.0 92.2,346.0 94.9,329.0 97.7,305.0 100.4,323.0 103.2,320.0 105.9,312.0 108.6,246.0 111.4,247.0 114.1,301.0 116.8,312.0 119.6,309.0 122.3,324.0 125.1,316.0 127.8,318.0 130.5,343.0 133.3,289.0 136.0,310.0 138.8,312.0 141.5,334.0 144.2,310.0 147.0,281.0 149.7,284.0 152.5,318.0 155.2,280.0 157.9,314.0" fill="none" stroke="#000000" stroke-width="1.2" stroke-linejoin="round"/>
</g>
<rect x="78.5" y="60.5" width="997.0" height="384.7" fill="none" stroke="#000" stroke-width="1.1"/>
<line x1="73.30" y1="406.50" x2="78.5" y2="406.50" stroke="#000" stroke-width="1.1"/>
<text x="68.8" y="413.20" font-family='"Liberation Sans", sans-serif' font-size="19.7" text-anchor="end" fill="#000" textLength="11.9" lengthAdjust="spacingAndGlyphs">0</text>
<line x1="73.30" y1="351.00" x2="78.5" y2="351.00" stroke="#000" stroke-width="1.1"/>
<text x="68.8" y="357.70" font-family='"Liberation Sans", sans-serif' font-size="19.7" text-anchor="end" fill="#000" textLength="11.9" lengthAdjust="spacingAndGlyphs">5</text>
<line x1="73.30" y1="295.50" x2="78.5" y2="295.50" stroke="#000" stroke-width="1.1"/>
<text x="67.8" y="302.20" font-family='"Liberation Sans", sans-serif' font-size="19.7" text-anchor="end" fill="#000" textLength="23.8" lengthAdjust="spacingAndGlyphs">10</text>
<line x1="73.30" y1="240.00" x2="78.5" y2="240.00" stroke="#000" stroke-width="1.1"/>
<text x="67.8" y="246.70" font-family='"Liberation Sans", sans-serif' font-size="19.7" text-anchor="end" fill="#000" textLength="23.8" lengthAdjust="spacingAndGlyphs">15</text>
<line x1="73.30" y1="184.50" x2="78.5" y2="184.50" stroke="#000" stroke-width="1.1"/>
<text x="67.8" y="191.20" font-family='"Liberation Sans", sans-serif' font-size="19.7" text-anchor="end" fill="#000" textLength="23.8" lengthAdjust="spacingAndGlyphs">20</text>
<line x1="73.30" y1="129.00" x2="78.5" y2="129.00" stroke="#000" stroke-width="1.1"/>
<text x="67.8" y="135.70" font-family='"Liberation Sans", sans-serif' font-size="19.7" text-anchor="end" fill="#000" textLength="23.8" lengthAdjust="spacingAndGlyphs">25</text>
<line x1="73.30" y1="73.50" x2="78.5" y2="73.50" stroke="#000" stroke-width="1.1"/>
<text x="67.8" y="80.20" font-family='"Liberation Sans", sans-serif' font-size="19.7" text-anchor="end" fill="#000" textLength="23.8" lengthAdjust="spacingAndGlyphs">30</text>
<line x1="78.50" y1="445.2" x2="78.50" y2="450.50" stroke="#000" stroke-width="1.1"/>
<text x="78.50" y="468.8" font-family='"Liberation Sans", sans-serif' font-size="17.6" text-anchor="middle" fill="#000">Ene</text>
<line x1="163.41" y1="445.2" x2="163.41" y2="450.50" stroke="#000" stroke-width="1.1"/>
<text x="163.41" y="468.8" font-family='"Liberation Sans", sans-serif' font-size="17.6" text-anchor="middle" fill="#000">Feb</text>
<line x1="240.10" y1="445.2" x2="240.10" y2="450.50" stroke="#000" stroke-width="1.1"/>
<text x="240.10" y="468.8" font-family='"Liberation Sans", sans-serif' font-size="17.6" text-anchor="middle" fill="#000">Mar</text>
<line x1="325.01" y1="445.2" x2="325.01" y2="450.50" stroke="#000" stroke-width="1.1"/>
<text x="325.01" y="468.8" font-family='"Liberation Sans", sans-serif' font-size="17.6" text-anchor="middle" fill="#000">Abr</text>
<line x1="407.18" y1="445.2" x2="407.18" y2="450.50" stroke="#000" stroke-width="1.1"/>
<text x="407.18" y="468.8" font-family='"Liberation Sans", sans-serif' font-size="17.6" text-anchor="middle" fill="#000">May</text>
<line x1="492.09" y1="445.2" x2="492.09" y2="450.50" stroke="#000" stroke-width="1.1"/>
<text x="492.09" y="468.8" font-family='"Liberation Sans", sans-serif' font-size="17.6" text-anchor="middle" fill="#000">Jun</text>
<line x1="574.26" y1="445.2" x2="574.26" y2="450.50" stroke="#000" stroke-width="1.1"/>
<text x="574.26" y="468.8" font-family='"Liberation Sans", sans-serif' font-size="17.6" text-anchor="middle" fill="#000">Jul</text>
<line x1="659.17" y1="445.2" x2="659.17" y2="450.50" stroke="#000" stroke-width="1.1"/>
<text x="659.17" y="468.8" font-family='"Liberation Sans", sans-serif' font-size="17.6" text-anchor="middle" fill="#000">Ago</text>
<line x1="744.08" y1="445.2" x2="744.08" y2="450.50" stroke="#000" stroke-width="1.1"/>
<text x="744.08" y="468.8" font-family='"Liberation Sans", sans-serif' font-size="17.6" text-anchor="middle" fill="#000">Sep</text>
<line x1="826.25" y1="445.2" x2="826.25" y2="450.50" stroke="#000" stroke-width="1.1"/>
<text x="826.25" y="468.8" font-family='"Liberation Sans", sans-serif' font-size="17.6" text-anchor="middle" fill="#000">Oct</text>
<line x1="911.16" y1="445.2" x2="911.16" y2="450.50" stroke="#000" stroke-width="1.1"/>
<text x="911.16" y="468.8" font-family='"Liberation Sans", sans-serif' font-size="17.6" text-anchor="middle" fill="#000">Nov</text>
<line x1="993.33" y1="445.2" x2="993.33" y2="450.50" stroke="#000" stroke-width="1.1"/>
<text x="993.33" y="468.8" font-family='"Liberation Sans", sans-serif' font-size="17.6" text-anchor="middle" fill="#000">Dic</text>
<text x="325" y="31.9" font-family='"Liberation Sans", sans-serif' font-size="25.2" fill="#2c6ea8" textLength="503.5" lengthAdjust="spacingAndGlyphs">Temperatura Media diaria - Villacarriedo</text>
<text x="50.0" y="54.6" font-family='"Liberation Sans", sans-serif' font-size="17.6" fill="#000" textLength="17.8" lengthAdjust="spacingAndGlyphs">°C</text>
<text x="82.6" y="54.4" font-family='"Liberation Sans", sans-serif' font-size="16.2" fill="#000" textLength="109" lengthAdjust="spacingAndGlyphs">Última temp:</text>
<text x="197" y="54.4" font-family='"Liberation Sans", sans-serif' font-size="16.2" fill="#000" textLength="96.6" lengthAdjust="spacingAndGlyphs">2026-01-30</text>
<text x="89.2" y="83.9" font-family='"Liberation Sans", sans-serif' font-size="22.6" fill="#2c6ea8" textLength="239.2" lengthAdjust="spacingAndGlyphs">WWW.EMBALSES.NET</text>
<rect x="185.5" y="476.8" width="782.4" height="40" rx="3" ry="3" fill="#ffffff" fill-opacity="0.8" stroke="#cccccc" stroke-width="1.1"/>
<line x1="192" y1="491.3" x2="225" y2="491.3" stroke="#ff0000" stroke-width="0.75" stroke-dasharray="2.6,1.1"/>
<line x1="370.4" y1="491.3" x2="403.6" y2="491.3" stroke="#add8e6" stroke-width="1.39" stroke-dasharray="5.1,2.2"/>
<line x1="537.1" y1="491.3" x2="572.9" y2="491.3" stroke="#000" stroke-width="2.78"/>
<line x1="799.3" y1="491.5" x2="832.7" y2="491.5" stroke="#000" stroke-width="1.2"/>
<text x="238.4" y="496.7" font-family='"Liberation Sans", sans-serif' font-size="17.6" fill="#000" textLength="98.6" lengthAdjust="spacingAndGlyphs">Percentil 95</text>
<text x="416" y="496.7" font-family='"Liberation Sans", sans-serif' font-size="17.6" fill="#000" textLength="88.5" lengthAdjust="spacingAndGlyphs">Percentil 5</text>
<text x="582.6" y="496.7" font-family='"Liberation Sans", sans-serif' font-size="17.6" fill="#000" textLength="182" lengthAdjust="spacingAndGlyphs">Temperatura Mediana</text>
<text x="845.4" y="496.7" font-family='"Liberation Sans", sans-serif' font-size="17.6" fill="#000" textLength="117" lengthAdjust="spacingAndGlyphs">T. Media 2026</text>
</svg>
</body></html>
